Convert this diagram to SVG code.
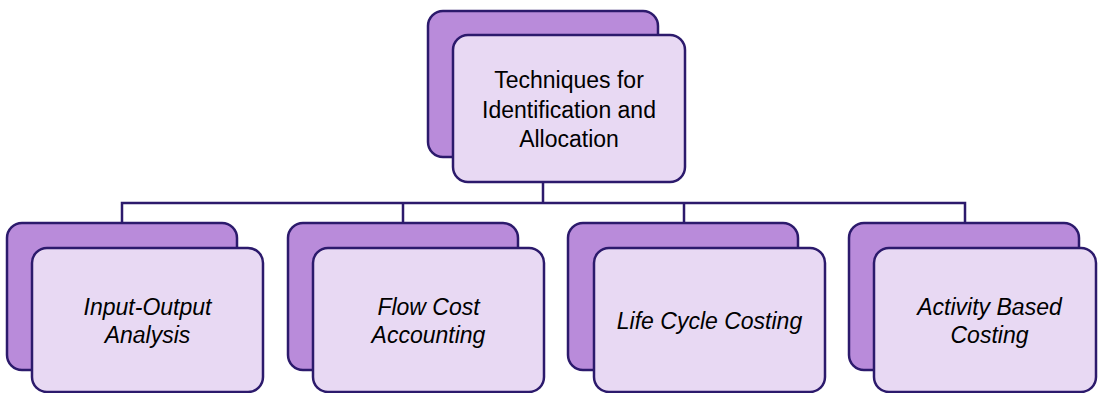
<svg xmlns="http://www.w3.org/2000/svg" width="1098" height="393" viewBox="0 0 1098 393">
<style>
.back{fill:#b98bda;stroke:#2c1a6c;stroke-width:2.5}
.front{fill:#e8d9f3;stroke:#2c1a6c;stroke-width:2.5}
.conn{fill:none;stroke:#2c1a6c;stroke-width:2.5}
text{font-family:"Liberation Sans",Arial,sans-serif;font-size:23px;fill:#000;text-anchor:middle}
.it{font-style:italic}
</style>
<rect width="1098" height="393" fill="#fff"/>
<g id="connectors">
<path class="conn" d="M543,182V203M122,223V203H965V223M403,203V223M684,203V223"/>
</g>
<g id="node-top">
<rect class="back" x="428" y="11" width="230" height="146" rx="15"/>
<rect class="front" x="453" y="35" width="232" height="147" rx="15"/>
<text x="569" y="88">Techniques for</text>
<text x="569" y="118">Identification and</text>
<text x="569" y="147">Allocation</text>
</g>
<g id="node-io">
<rect class="back" x="7" y="223" width="230" height="147" rx="15"/>
<rect class="front" x="32" y="248" width="231" height="144" rx="15"/>
<text class="it" x="147.5" y="315">Input-Output</text>
<text class="it" x="147.5" y="343">Analysis</text>
</g>
<g id="node-fca">
<rect class="back" x="288" y="223" width="230" height="147" rx="15"/>
<rect class="front" x="313" y="248" width="231" height="144" rx="15"/>
<text class="it" x="428.5" y="315">Flow Cost</text>
<text class="it" x="428.5" y="343">Accounting</text>
</g>
<g id="node-lcc">
<rect class="back" x="568" y="223" width="230" height="147" rx="15"/>
<rect class="front" x="594" y="248" width="231" height="144" rx="15"/>
<text class="it" x="709.5" y="329">Life Cycle Costing</text>
</g>
<g id="node-abc">
<rect class="back" x="849" y="223" width="230" height="147" rx="15"/>
<rect class="front" x="874" y="248" width="222" height="144" rx="15"/>
<text class="it" x="989.5" y="315">Activity Based</text>
<text class="it" x="989.5" y="343">Costing</text>
</g>
</svg>
